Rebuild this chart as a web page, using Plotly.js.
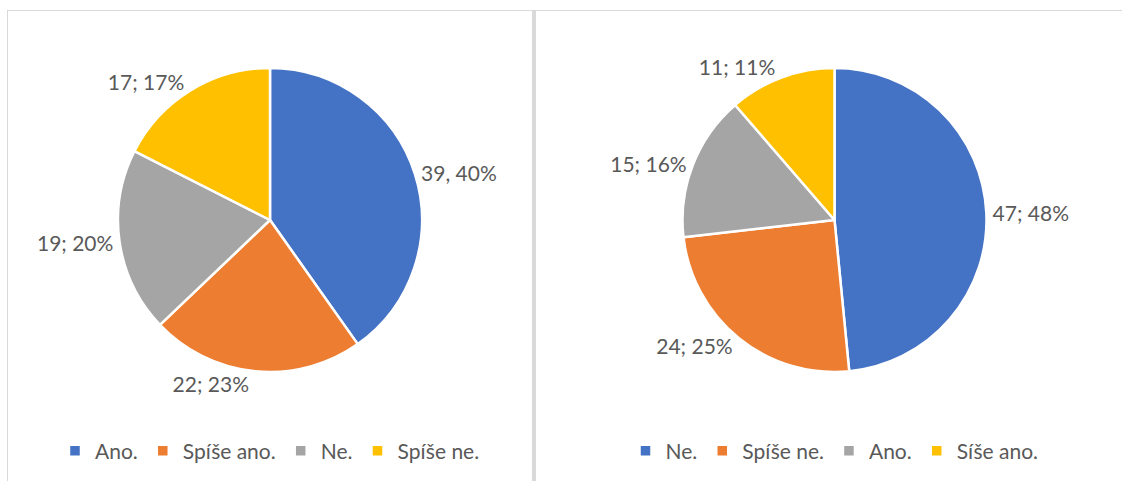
<!DOCTYPE html>
<html>
<head>
<meta charset="utf-8">
<script src="https://cdn.plot.ly/plotly-3.0.1.min.js"></script>
<style>
  html, body { margin: 0; padding: 0; background: #fff; }
  body { width: 1122px; height: 481px; position: relative; overflow: hidden; }
  #left { position: absolute; left: 7px; top: 10px; width: 524px; height: 471px;
          border-left: 1px solid #d9d9d9; border-top: 1px solid #d9d9d9; border-right: 3px solid #d9d9d9; box-sizing: content-box; }
  #right { position: absolute; left: 535px; top: 10px; width: 587px; height: 471px;
           border-left: 1px solid #d9d9d9; border-top: 1px solid #d9d9d9; }
</style>
</head>
<body>
<div id="left"></div>
<div id="right"></div>
<script>
// ---- data ----
const leftLabels = ['Ano.', 'Spíše ano.', 'Ne.', 'Spíše ne.'];
const leftValues = [39, 22, 19, 17];
const leftPct = [40, 23, 20, 17];
const leftSep = [', ', '; ', '; ', '; '];

const rightLabels = ['Ne.', 'Spíše ne.', 'Ano.', 'Síše ano.'];
const rightValues = [47, 24, 15, 11];
const rightPct = [48, 25, 16, 11];
const rightSep = ['; ', '; ', '; ', '; '];

const sliceColors = ['#4472C4', '#ED7D31', '#A5A5A5', '#FFC000'];
const textColor = '#595959';
const fontFam = 'Lato, "Open Sans", sans-serif';

function makePie(div, labels, values, pct, sep, margin) {
  const text = values.map((v, i) => v + sep[i] + pct[i] + '%');
  const trace = {
    type: 'pie',
    labels: labels,
    values: values,
    text: text,
    textinfo: 'text',
    textposition: 'outside',
    sort: false,
    direction: 'clockwise',
    rotation: 0,
    marker: { colors: sliceColors, line: { color: '#ffffff', width: 2.5 } },
    outsidetextfont: { family: fontFam, size: 21, color: textColor },
    automargin: false,
    hoverinfo: 'none'
  };
  const layout = {
    width: div.clientWidth,
    height: div.clientHeight,
    margin: margin,
    paper_bgcolor: 'rgba(0,0,0,0)',
    plot_bgcolor: 'rgba(0,0,0,0)',
    showlegend: true,
    legend: {
      orientation: 'h', x: 0.5, xanchor: 'center', y: -0.26, yanchor: 'middle',
      font: { family: fontFam, size: 21, color: textColor },
      traceorder: 'normal'
    },
    font: { family: fontFam, color: textColor }
  };
  Plotly.newPlot(div, [trace], layout, { displayModeBar: false, staticPlot: true });
}

makePie(document.getElementById('left'), leftLabels, leftValues, leftPct, leftSep,
        { l: 0, r: 0, t: 57, b: 110 });
makePie(document.getElementById('right'), rightLabels, rightValues, rightPct, rightSep,
        { l: 10, r: 0, t: 57, b: 110 });
</script>
</body>
</html>
